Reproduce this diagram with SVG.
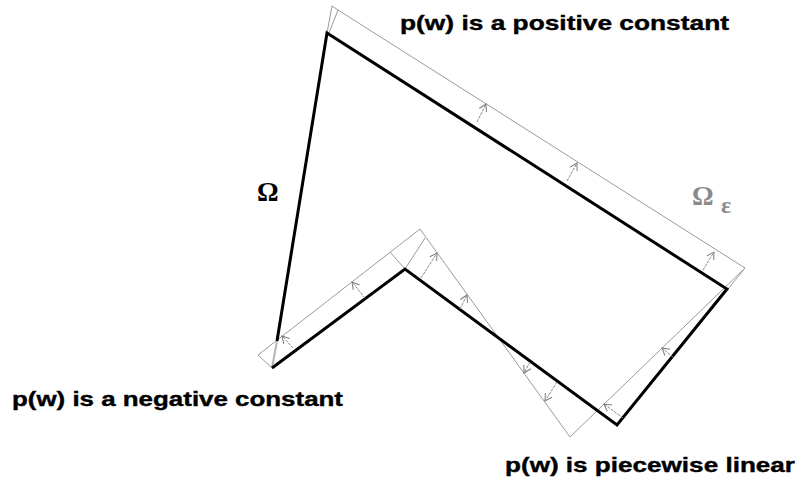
<svg xmlns="http://www.w3.org/2000/svg" width="801" height="483" viewBox="0 0 801 483">
<style>
.lbl{font-family:"Liberation Sans",Arial,sans-serif;font-weight:bold;font-size:21px;fill:#000;stroke:#000;stroke-width:0.4}
.band{fill:none;stroke:#9a9a9a;stroke-width:1}
.arr{fill:none;stroke:#8a8a8a;stroke-width:1;stroke-dasharray:3,1}
.edge{fill:none;stroke:#000;stroke-width:3;stroke-linejoin:miter}
.om{font-family:"Liberation Serif",serif;font-weight:bold}
</style>
<defs>
<marker id="ah" markerUnits="userSpaceOnUse" markerWidth="12" markerHeight="12" refX="8" refY="5" orient="auto">
<path d="M1,1 L8,5 L1,9" fill="none" stroke="#7a7a7a" stroke-width="1"/>
</marker>
</defs>
<rect width="801" height="483" fill="#fff"/>
<g id="omega-eps">
<path class="band" d="M327,33 L332,6 L338,10 L745,268 L570,437 L420,229 L258,355 L272,368"/>
<path class="band" d="M338,10 L329,33"/>
<path class="band" d="M390,252 L405,269 L425,238"/>
<path class="band" d="M745,268 L728,289"/>
<line x1="272" y1="368" x2="277" y2="341" stroke="#b5b5b5" stroke-width="2"/>
</g>
<g id="omega">
<path class="edge" d="M277,341 L327,33 L727,289 L617,425 L405,269 L272,368"/>
</g>
<g id="connectors">
<line class="arr" x1="477" y1="122" x2="486" y2="104" marker-end="url(#ah)"/>
<line class="arr" x1="567" y1="181" x2="577" y2="163" marker-end="url(#ah)"/>
<line class="arr" x1="703" y1="270" x2="714" y2="252" marker-end="url(#ah)"/>
<line class="arr" x1="293" y1="348" x2="282" y2="336" marker-end="url(#ah)"/>
<line class="arr" x1="365" y1="298" x2="352" y2="282" marker-end="url(#ah)"/>
<line class="arr" x1="421" y1="278" x2="437" y2="253" marker-end="url(#ah)"/>
<line class="arr" x1="460" y1="309" x2="467" y2="295" marker-end="url(#ah)"/>
<line class="arr" x1="530" y1="362" x2="524" y2="373" marker-end="url(#ah)"/>
<line class="arr" x1="557" y1="382" x2="545" y2="401" marker-end="url(#ah)"/>
<line class="arr" x1="623" y1="418" x2="604" y2="404" marker-end="url(#ah)"/>
<line class="arr" x1="673" y1="357" x2="662" y2="348" marker-end="url(#ah)"/>
</g>
<g id="labels">
<text class="lbl" x="400" y="30" textLength="329" lengthAdjust="spacingAndGlyphs">p(w) is a positive constant</text>
<text class="lbl" x="12" y="406" textLength="331" lengthAdjust="spacingAndGlyphs">p(w) is a negative constant</text>
<text class="lbl" x="505" y="472" textLength="290" lengthAdjust="spacingAndGlyphs">p(w) is piecewise linear</text>
<text class="om" x="257" y="201" font-size="27" fill="#000">Ω</text>
<text class="om" x="692" y="205" font-size="27" fill="#8a8a8a">Ω</text>
<text class="om" x="721" y="213" font-size="24" fill="#8a8a8a">ε</text>
</g>
</svg>
